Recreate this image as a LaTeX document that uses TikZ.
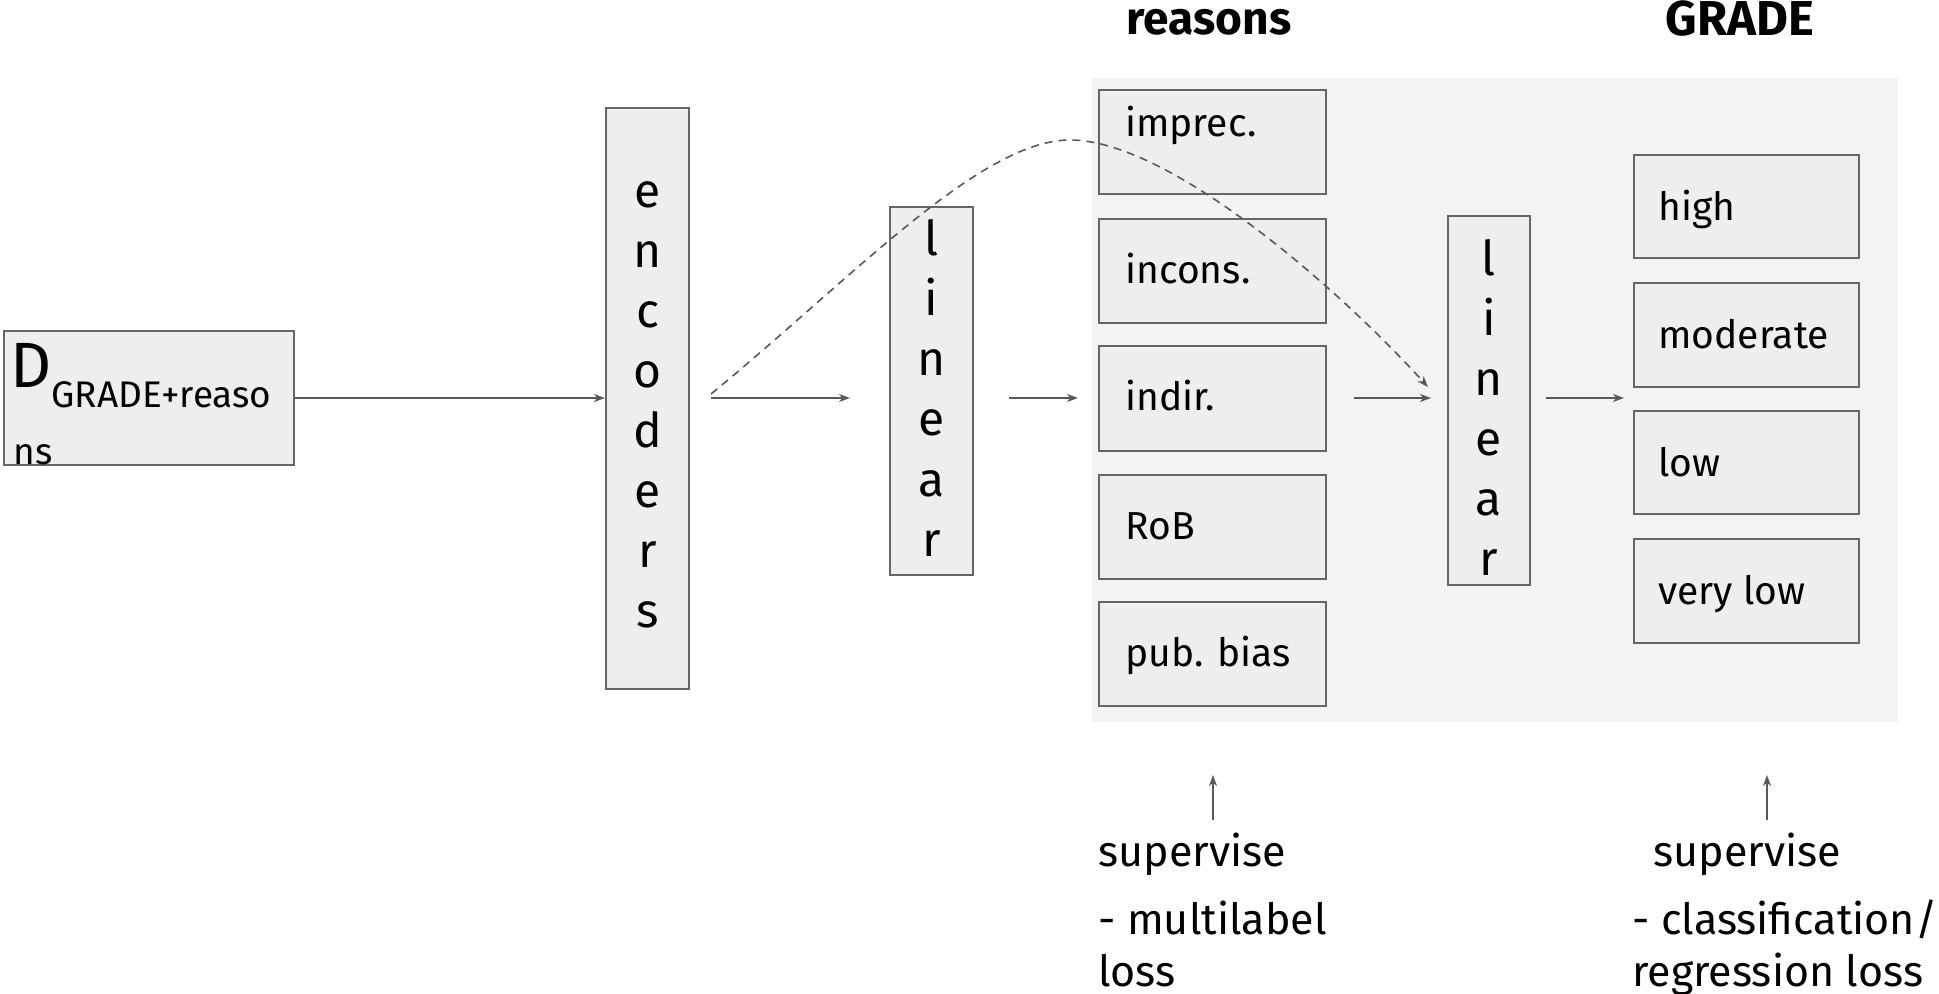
\documentclass[tikz,border=0pt]{standalone}
\usepackage{fontspec}
\setmainfont{Fira Sans}
\usetikzlibrary{arrows.meta,fit}
\definecolor{panel}{HTML}{F3F3F3}
\definecolor{boxfill}{HTML}{EEEEEE}
\definecolor{boxline}{HTML}{666666}
\definecolor{arr}{HTML}{595959}
\begin{document}
\begin{tikzpicture}[x=0.5pt,y=-0.5pt,
  box/.style={draw=boxline, fill=boxfill, line width=1pt, inner sep=0pt},
  lbl/.style={font=\fontsize{19.5}{23}\selectfont, anchor=west, inner sep=0pt, text height=0.72em, text depth=0.2em},
  vtext/.style={font=\fontsize{24}{30}\selectfont, align=center, inner sep=0pt},
  title/.style={font=\fontsize{23}{27}\selectfont\bfseries, anchor=base, inner sep=0pt},
  note/.style={font=\fontsize{21.5}{26}\selectfont, anchor=base west, inner sep=0pt},
  flow/.style={draw=arr, line width=0.8pt, -{Stealth[length=5.5pt,width=4pt,inset=1.6pt]}},
  skip/.style={draw=arr, line width=0.8pt, dash pattern=on 4pt off 3pt, -{Stealth[length=5.5pt,width=4pt,inset=1.6pt]}}
]
\useasboundingbox (0,0) rectangle (1939,994);

% background panel
\node[fill=panel, inner sep=0pt, fit={(1092,78) (1898,722)}] (panel) {};

% titles
\node[title] (treasons) at (1209,35) {reasons};
\node[title, font=\fontsize{24.5}{29}\selectfont\bfseries] (tgrade) at (1740,36) {GRADE};

% input box
\node[box, fit={(4,331) (294,465)}] (dbox) {};
\node[anchor=base west, inner sep=0pt] (dtext) at (10,388)
  {{\fontsize{32}{36}\selectfont D}{\fontsize{18.5}{22}\selectfont\raisebox{-10pt}{GRADE+reaso}}};
\node[anchor=base west, inner sep=0pt, font=\fontsize{18.5}{22}\selectfont] (dns) at (13,465) {ns};

% encoders and linear layers
\node[box, fit={(606,108) (689,689)}] (enc) {};
\node[box, fit={(890,207) (973,575)}] (lin1) {};
\node[box, fit={(1448,216) (1530,585)}] (lin2) {};
\node[vtext, yshift=-3pt] (enct) at (enc.center) {e\\n\\c\\o\\d\\e\\r\\s};
\node[vtext, yshift=1.5pt] (lin1t) at (lin1.center) {l\\i\\n\\e\\a\\r};
\node[vtext, yshift=-3.5pt] (lin2t) at (lin2.center) {l\\i\\n\\e\\a\\r};

% reason boxes
\node[box, fit={(1099,90) (1326,194)}] (rimp) {};
\node[box, fit={(1099,219) (1326,323)}] (rinc) {};
\node[box, fit={(1099,346) (1326,451)}] (rind) {};
\node[box, fit={(1099,475) (1326,579)}] (rrob) {};
\node[box, fit={(1099,602) (1326,706)}] (rpub) {};
\node[lbl] (limp) at (1125,131) {imprec.};
\node[lbl] (linc) at (1125,278) {incons.};
\node[lbl] (lind) at (1125,405) {indir.};
\node[lbl] (lrob) at (1125,534) {RoB};
\node[lbl] (lpub) at (1125,661) {pub. bias};

% grade boxes
\node[box, fit={(1634,155) (1859,258)}] (ghigh) {};
\node[box, fit={(1634,283) (1859,387)}] (gmod) {};
\node[box, fit={(1634,411) (1859,514)}] (glow) {};
\node[box, fit={(1634,539) (1859,643)}] (gvlow) {};
\node[lbl] (lhigh) at (1658,215) {high};
\node[lbl] (lmod) at (1658,343) {moderate};
\node[lbl] (llow) at (1658,471) {low};
\node[lbl] (lvlow) at (1658,599) {very low};

% connector end points
\coordinate (a2s) at (711,398);
\coordinate (a2e) at (850,398);
\coordinate (a3s) at (1009,398);
\coordinate (a3e) at (1078,398);
\coordinate (a4s) at (1354,398);
\coordinate (a4e) at (1431,398);
\coordinate (a5s) at (1546,398);
\coordinate (a5e) at (1624,398);
\coordinate (s1s) at (1213,820);
\coordinate (s1e) at (1213,775);
\coordinate (s2s) at (1767,820);
\coordinate (s2e) at (1767,775);
\coordinate (ds) at (711,394);
\coordinate (dp) at (1070,140);
\coordinate (de) at (1428,387);

% connectors
\draw[flow] (dbox.east) -- (dbox.east -| enc.west);
\draw[flow] (a2s) -- (a2e);
\draw[flow] (a3s) -- (a3e);
\draw[flow] (a4s) -- (a4e);
\draw[flow] (a5s) -- (a5e);
\draw[flow] (s1s) -- (s1e);
\draw[flow] (s2s) -- (s2e);
\draw[skip] (ds) .. controls (850,280) and (980,140) .. (dp)
  .. controls (1170,140) and (1340,290) .. (de);

% supervision notes
\node[note] (sup1) at (1098,866) {supervise};
\node[note] (ml1) at (1098,934) {- multilabel};
\node[note] (ml2) at (1098,986) {loss};
\node[note] (sup2) at (1653,866) {supervise};
\node[note] (cl1) at (1632,934) {- classification/};
\node[note] (cl2) at (1632,986) {regression loss};
\end{tikzpicture}
\end{document}
